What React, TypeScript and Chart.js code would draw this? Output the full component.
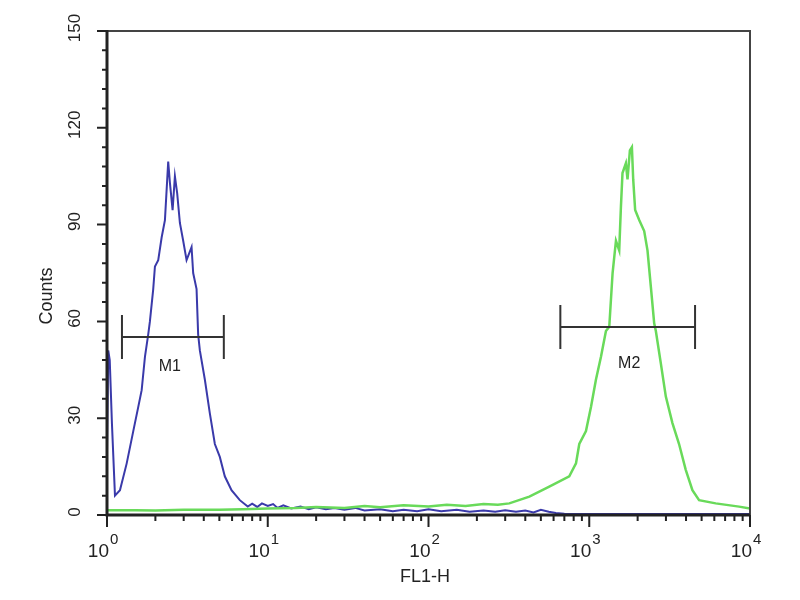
import React, { useEffect, useRef } from 'react'
import { Chart, registerables } from 'chart.js'

Chart.register(...registerables)

// FL1-H channel values and counts
const blueX = [
	1.0, 1.018, 1.04, 1.074, 1.121, 1.204, 1.326, 1.457, 1.565, 1.643, 1.722, 1.805, 1.849, 1.939, 1.987,
	2.083, 2.187, 2.293, 2.403, 2.462, 2.559, 2.645, 2.733, 2.841, 2.978, 3.126, 3.358, 3.436, 3.607, 3.69,
	3.781, 4.061, 4.363, 4.687, 5.033, 5.405, 5.951, 6.7, 7.51, 8, 8.6, 9.2, 10, 10.8, 11.5, 12.5, 14, 16,
	18, 20, 23, 26, 30, 35, 40, 50, 60, 70, 85, 100, 120, 150, 180, 220, 260, 300, 350, 400, 450, 500, 560,
	620, 700, 1000, 3000, 10000,
]
const blueCounts = [
	20, 51, 48, 28, 6, 7.7, 16, 26, 33.5, 38.7, 49, 56, 60, 70, 77, 79, 86, 91.4, 109.5, 103, 94.5, 105,
	99.7, 90.5, 85, 79, 83, 75, 70, 56, 51, 42, 31.5, 22, 18, 12, 7.7, 4.6, 2.6, 3.5, 2.5, 3.6, 2.8, 3.4,
	2.2, 3, 2, 2.6, 1.8, 2.4, 1.8, 2.2, 1.6, 2.2, 1.4, 1.8, 1.2, 1.6, 1.2, 1.8, 1.2, 1.6, 1, 1.4, 1, 1.5, 1,
	1.4, 0.8, 1.6, 1, 0.6, 0.4, 0.3, 0.3, 0.3,
]

const greenX = [
	1, 1.5, 2, 3, 5, 7, 10, 15, 20, 30, 40, 50, 70, 100, 130, 170, 220, 270, 318, 424, 564, 751, 827, 867,
	954, 1025, 1101, 1182, 1270, 1332, 1397, 1466, 1536, 1574, 1610, 1690, 1730, 1790, 1842, 1877, 1930,
	2045, 2197, 2303, 2417, 2535, 2596, 2788, 2995, 3292, 3620, 3984, 4383, 4822, 6120, 8550, 10000,
]
const greenCounts = [
	1.5, 1.5, 1.4, 1.6, 1.6, 1.8, 2, 2.2, 2.5, 2.2, 2.8, 2.4, 3, 2.6, 3.2, 2.8, 3.4, 3.2, 3.6, 5.7, 8.8, 12,
	16, 22, 26, 33.5, 42, 49, 57, 58.3, 75, 85, 82, 95.5, 106, 109, 104, 113, 114, 104, 94.5, 91.4, 88, 82,
	70.7, 59.4, 57, 47, 36.7, 28.5, 22, 14, 7.7, 4.6, 3.6, 2.6, 2,
]

const yTicks = [0, 30, 60, 90, 120, 150]
const yMinorStep = 6
const xDecades = [1, 10, 100, 1000, 10000]
const xExponents = ['0', '1', '2', '3', '4']

// marker gates: [from, to, count level]
const markerNames = ['M1', 'M2']
const markerFrom = [1.239, 661]
const markerTo = [5.33, 4552]
const markerLevel = [55.2, 58.3]
const markerLabelX = [2.46, 1772]
const markerLabelY = [46, 47]

const FONT = '"Liberation Sans", Arial, sans-serif'
const INK = '#222'

const cytoAxes = {
	id: 'cytoAxes',
	afterDraw(chart: Chart) {
		const { ctx, chartArea } = chart
		const xs = chart.scales.x
		const ys = chart.scales.y
		const { left, right, top, bottom } = chartArea
		ctx.save()

		// frame
		ctx.strokeStyle = '#444'
		ctx.lineWidth = 2
		ctx.beginPath()
		ctx.moveTo(left, top)
		ctx.lineTo(right, top)
		ctx.lineTo(right, bottom)
		ctx.stroke()
		ctx.strokeStyle = INK
		ctx.lineWidth = 3
		ctx.beginPath()
		ctx.moveTo(left, top - 1)
		ctx.lineTo(left, bottom)
		ctx.lineTo(right, bottom)
		ctx.stroke()

		// y ticks
		ctx.lineWidth = 2
		ctx.beginPath()
		for (let v = 0; v <= 150; v += yMinorStep) {
			const py = ys.getPixelForValue(v)
			const len = v % 30 === 0 ? 10 : 5
			ctx.moveTo(left, py)
			ctx.lineTo(left - len, py)
		}
		// x ticks (log decades with minor 2..9)
		for (let d = 0; d < xDecades.length; d++) {
			const base = xDecades[d]
			const px = xs.getPixelForValue(base)
			ctx.moveTo(px, bottom)
			ctx.lineTo(px, bottom + 12)
			if (d < xDecades.length - 1) {
				for (let m = 2; m <= 9; m++) {
					const mx = xs.getPixelForValue(base * m)
					ctx.moveTo(mx, bottom)
					ctx.lineTo(mx, bottom + 6)
				}
			}
		}
		ctx.stroke()

		// y tick labels, rotated
		ctx.fillStyle = INK
		ctx.font = `17px ${FONT}`
		ctx.textAlign = 'center'
		ctx.textBaseline = 'middle'
		yTicks.forEach((v) => {
			const py = ys.getPixelForValue(v)
			ctx.save()
			ctx.translate(75, py - 3)
			ctx.rotate(-Math.PI / 2)
			ctx.fillText(String(v), 0, 0)
			ctx.restore()
		})

		// x tick labels 10^n
		xDecades.forEach((v, i) => {
			const px = xs.getPixelForValue(v)
			ctx.font = `19px ${FONT}`
			ctx.textAlign = 'right'
			ctx.textBaseline = 'alphabetic'
			ctx.fillText('10', px + 2, bottom + 42)
			ctx.font = `15px ${FONT}`
			ctx.textAlign = 'left'
			ctx.fillText(xExponents[i], px + 3, bottom + 29)
		})

		// axis titles
		ctx.font = `18px ${FONT}`
		ctx.textAlign = 'center'
		ctx.textBaseline = 'middle'
		ctx.fillText('FL1-H', 425, 577)
		ctx.save()
		ctx.translate(47, 296)
		ctx.rotate(-Math.PI / 2)
		ctx.fillText('Counts', 0, 0)
		ctx.restore()

		// gates
		ctx.strokeStyle = '#333'
		ctx.lineWidth = 2
		markerNames.forEach((name, i) => {
			const x1 = xs.getPixelForValue(markerFrom[i])
			const x2 = xs.getPixelForValue(markerTo[i])
			const py = ys.getPixelForValue(markerLevel[i])
			ctx.beginPath()
			ctx.moveTo(x1, py)
			ctx.lineTo(x2, py)
			ctx.moveTo(x1, py - 22)
			ctx.lineTo(x1, py + 22)
			ctx.moveTo(x2, py - 22)
			ctx.lineTo(x2, py + 22)
			ctx.stroke()
			ctx.font = `16px ${FONT}`
			ctx.fillText(name, xs.getPixelForValue(markerLabelX[i]), ys.getPixelForValue(markerLabelY[i]))
		})

		ctx.restore()
	},
}

function App() {
	const refContainer = useRef<HTMLCanvasElement>(null)

	useEffect(() => {
		let chart: Chart | undefined
		if (refContainer.current) {
			chart = new Chart(refContainer.current, {
				type: 'line',
				data: {
					datasets: [
						{
							label: 'green',
							data: greenX.map((x, i) => ({ x, y: greenCounts[i] })),
							borderColor: 'rgb(105,218,90)',
							borderWidth: 2.5,
							pointRadius: 0,
							tension: 0,
						},
						{
							label: 'blue',
							data: blueX.map((x, i) => ({ x, y: blueCounts[i] })),
							borderColor: 'rgb(58,58,170)',
							borderWidth: 2,
							pointRadius: 0,
							tension: 0,
						},
					],
				},
				options: {
					animation: false,
					responsive: false,
					layout: { padding: { left: 107, right: 50, top: 31, bottom: 85 } },
					scales: {
						x: { type: 'logarithmic', min: 1, max: 10000, display: false },
						y: { type: 'linear', min: 0, max: 150, display: false },
					},
					plugins: {
						legend: { display: false },
						tooltip: { enabled: false },
					},
				},
				plugins: [cytoAxes],
			})
		}
		return () => chart?.destroy()
	}, [])

	return (
		<div style={{ position: 'absolute', left: 0, top: 0, width: 800, height: 600, background: '#fff' }}>
			<canvas aria-label="flow-histogram" ref={refContainer} width={800} height={600} />
		</div>
	)
}

export default App
